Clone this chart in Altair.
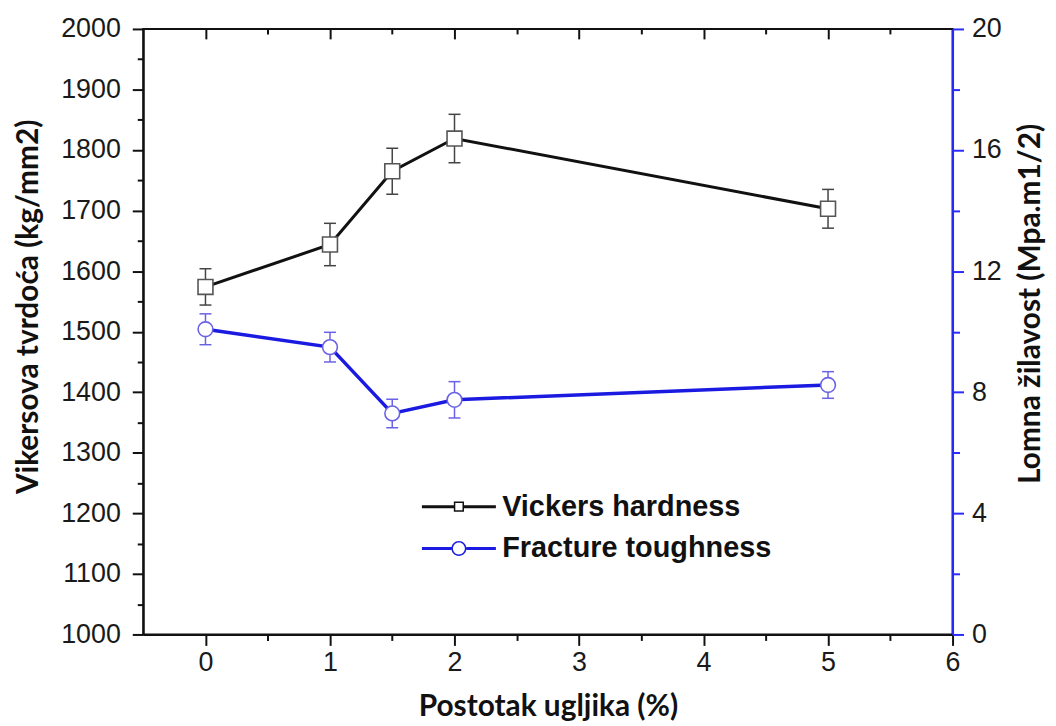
import altair as alt
import pandas as pd

# ---- data ----
carbon = [0, 1, 1.5, 2, 5]
vickers = [1574, 1644, 1765, 1819, 1703]
vickers_err = [30, 35, 38, 40, 32]
toughness = [10.08, 9.49, 7.3, 7.75, 8.24]
toughness_err = [0.51, 0.49, 0.47, 0.6, 0.44]
series_names = ["Vickers hardness", "Fracture toughness"]
x_ticks = [0, 0.5, 1, 1.5, 2, 2.5, 3, 3.5, 4, 4.5, 5, 5.5, 6]
left_ticks = list(range(1000, 2001, 50))
right_ticks = list(range(0, 21, 2))

vk = pd.DataFrame({
    "x": carbon,
    "y": vickers,
    "lo": [v - e for v, e in zip(vickers, vickers_err)],
    "hi": [v + e for v, e in zip(vickers, vickers_err)],
})
ft = pd.DataFrame({
    "x": carbon,
    "y": toughness,
    "lo": [v - e for v, e in zip(toughness, toughness_err)],
    "hi": [v + e for v, e in zip(toughness, toughness_err)],
})
legend_df = pd.DataFrame({"series": series_names})

W, H = 814, 609
BLACK = "#111111"
BLUE = "#1a1ae0"
BLUE_AXIS = "#2a2aff"
BLUE_MARK = "#6a62e6"

x_scale = alt.Scale(domain=[-0.5, 6], nice=False, zero=False)

x_bottom_axis = alt.Axis(
    orient="bottom", values=x_ticks,
    labelExpr="datum.value % 1 === 0 ? format(datum.value, 'd') : ''",
    tickSize={"condition": {"test": "datum.value % 1 === 0", "value": 11}, "value": 6},
    labelPadding=4, labelBaseline="top",
    title="Postotak ugljika (%)", titleY=82, titleBaseline="alphabetic",
)
x_top_axis = alt.Axis(
    orient="bottom", offset=-H, values=x_ticks, labels=False, domain=False,
    tickSize={"condition": {"test": "datum.value % 1 === 0", "value": 10}, "value": 5},
    title=None,
)
left_axis = alt.Axis(
    orient="left", values=left_ticks,
    labelExpr="datum.value % 100 === 0 ? format(datum.value, 'd') : ''",
    tickSize={"condition": {"test": "datum.value % 100 === 0", "value": 11}, "value": 6},
    labelPadding=12,
    title="Vikersova tvrdoća (kg/mm2)", titleAngle=270, titleAlign="center",
    titleBaseline="alphabetic", titleX=-106, titleY=279,
)
right_axis = alt.Axis(
    orient="right", values=right_ticks,
    labelExpr="datum.value % 4 === 0 ? format(datum.value, 'd') : ''",
    tickSize={"condition": {"test": "datum.value % 4 === 0", "value": 11}, "value": 7},
    labelPadding=8, domainColor=BLUE_AXIS, tickColor=BLUE_AXIS,
    title="Lomna žilavost (Mpa.m1/2)", titleAngle=270, titleAlign="center",
    titleBaseline="alphabetic", titleX=87, titleY=276,
)

left_scale = alt.Scale(domain=[1000, 2000], nice=False, zero=False)
right_scale = alt.Scale(domain=[0, 20], nice=False, zero=False)


def xb():
    return alt.X("x:Q", scale=x_scale, axis=x_bottom_axis)


def xt():
    return alt.X("x:Q", scale=x_scale, axis=x_top_axis)


def yl(field):
    return alt.Y(f"{field}:Q", scale=left_scale, axis=left_axis)


def yr(field):
    return alt.Y(f"{field}:Q", scale=right_scale, axis=right_axis)


# ---- Vickers hardness (left axis) ----
vk_base = alt.Chart(vk)
vk_rule = vk_base.mark_rule(color="#444444", strokeWidth=1.5).encode(x=xb(), y=yl("lo"), y2="hi:Q")
vk_cap_lo = vk_base.mark_tick(orient="horizontal", size=12, thickness=1.5, color="#444444", opacity=1).encode(x=xb(), y=yl("lo"))
vk_cap_hi = vk_base.mark_tick(orient="horizontal", size=12, thickness=1.5, color="#444444", opacity=1).encode(x=xb(), y=yl("hi"))
vk_line = vk_base.mark_line(color=BLACK, strokeWidth=3).encode(x=xb(), y=yl("y"))
vk_pts = vk_base.mark_point(shape="square", size=225, filled=True, fill="white", stroke="#555555",
                            strokeWidth=1.6, opacity=1).encode(x=xb(), y=yl("y"))

# ---- legend (custom symbols: line + marker) ----
sq_path = ("M-0.85,-0.85H0.85V0.85H-0.85Z M-0.6,-0.6V0.6H0.6V-0.6Z "
           "M-6.2,-0.25H-0.85V0.25H-6.2Z M0.85,-0.25H6.2V0.25H0.85Z")
ci_path = ("M-1.25,0A1.25,1.25 0 1,1 1.25,0A1.25,1.25 0 1,1 -1.25,0Z "
           "M-1,0A1,1 0 1,0 1,0A1,1 0 1,0 -1,0Z "
           "M-6.2,-0.25H-1.25V0.25H-6.2Z M1.25,-0.25H6.2V0.25H1.25Z")
leg = alt.Legend(
    orient="none", legendX=303, legendY=466, title=None, padding=0,
    labelFont="Liberation Sans", labelFontSize=29, labelFontWeight="bold", labelColor=BLACK,
    labelOffset=29, labelLimit=0, symbolSize=144, symbolStrokeWidth=0, rowPadding=12,
)
legend_layer = alt.Chart(legend_df).transform_filter("false").mark_point(
    filled=True, opacity=1, size=144
).encode(
    color=alt.Color("series:N", scale=alt.Scale(domain=series_names, range=[BLACK, BLUE]), legend=leg),
    shape=alt.Shape("series:N", scale=alt.Scale(domain=series_names, range=[sq_path, ci_path]), legend=leg),
)

left_group = alt.layer(vk_rule, vk_cap_lo, vk_cap_hi, vk_line, vk_pts, legend_layer)

# ---- Fracture toughness (right axis) ----
ft_base = alt.Chart(ft)
ft_rule = ft_base.mark_rule(color=BLUE_MARK, strokeWidth=1.5).encode(x=xt(), y=yr("lo"), y2="hi:Q")
ft_cap_lo = ft_base.mark_tick(orient="horizontal", size=12, thickness=1.5, color=BLUE_MARK, opacity=1).encode(x=xt(), y=yr("lo"))
ft_cap_hi = ft_base.mark_tick(orient="horizontal", size=12, thickness=1.5, color=BLUE_MARK, opacity=1).encode(x=xt(), y=yr("hi"))
ft_line = ft_base.mark_line(color=BLUE, strokeWidth=3.5).encode(x=xt(), y=yr("y"))
ft_pts = ft_base.mark_point(shape="circle", size=220, filled=True, fill="white", stroke=BLUE_MARK,
                            strokeWidth=1.6, opacity=1).encode(x=xt(), y=yr("y"))

right_group = alt.layer(ft_rule, ft_cap_lo, ft_cap_hi, ft_line, ft_pts)

chart = alt.layer(left_group, right_group).resolve_scale(
    y="independent"
).resolve_axis(
    x="independent", y="independent"
).properties(
    width=W, height=H,
    autosize=alt.AutoSizeParams(type="none"),
    padding={"left": 136, "top": 19, "right": 96, "bottom": 88},
    background="white",
).configure_view(
    stroke=BLACK, strokeWidth=2
).configure_axis(
    grid=False, domainColor=BLACK, domainWidth=2, tickColor=BLACK, tickWidth=2,
    labelFont="Liberation Sans", labelFontSize=27, labelColor="#1a1a1a",
    titleFont="Lato", titleFontSize=30, titleFontWeight="bold", titleColor=BLACK,
    labelOverlap=False, labelBound=False, labelFlush=False,
)

chart.save("out.html", embed_options={"renderer": "svg", "actions": False})
